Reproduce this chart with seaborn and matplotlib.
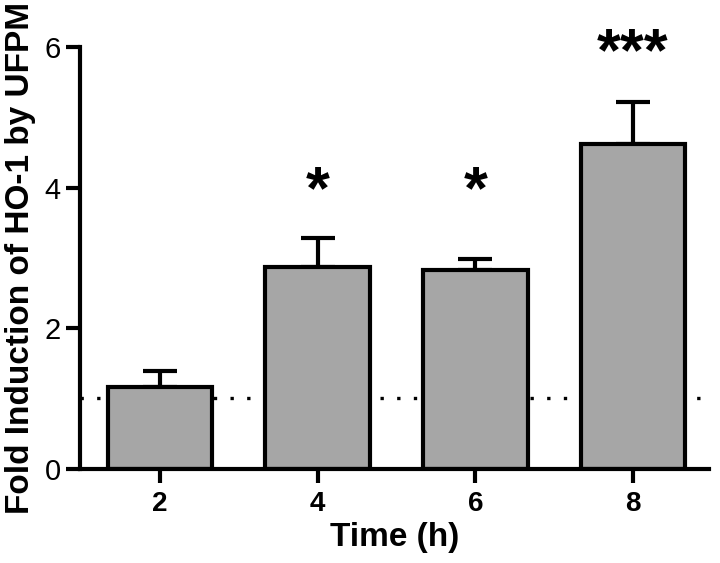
import matplotlib
matplotlib.use("Agg")
import matplotlib.pyplot as plt
import seaborn as sns
import pandas as pd
import numpy as np

times = ["2", "4", "6", "8"]
means = [1.16, 2.87, 2.83, 4.62]
sems = [0.23, 0.41, 0.15, 0.60]
stars = ["", "*", "*", "***"]
yticks = [0, 2, 4, 6]

sns.set_theme(style="ticks")
plt.rcParams['font.family'] = ['Liberation Sans', 'DejaVu Sans']
plt.rcParams['text.color'] = 'black'
plt.rcParams['axes.labelcolor'] = 'black'

df = pd.DataFrame({"Time": times, "Fold": means})

fig = plt.figure(figsize=(7.2, 5.63), dpi=100)
ax = fig.add_axes([80/720, 1 - 468.6/563, (708.6-80)/720, (468.6-47.4)/563])

ax.axhline(1.0, color="black", lw=2.4, linestyle=(0, (1, 4)), zorder=0)

sns.barplot(data=df, x="Time", y="Fold", color="#a6a6a6", saturation=1,
            edgecolor="black", linewidth=3, width=0.664, errorbar=None, ax=ax, zorder=2)

ax.errorbar(np.arange(len(means)), means, yerr=[np.zeros(len(sems)), sems],
            fmt="none", ecolor="black", elinewidth=3, capsize=12.5, capthick=3, zorder=1)

# significance marks: single stars share a level, triple star sits above the tallest bar
tops = [m + s for m, s in zip(means, sems)]
single_level = max(tops[1], tops[2]) + 0.24
for i, s in enumerate(stars):
    if s:
        y = single_level if len(s) == 1 else tops[i] + 0.27
        ax.text(i, y, s, ha="center", va="bottom", color="black",
                fontsize=44, fontweight="bold", clip_on=False)

ax.set_xlim(-0.508, 3.48)
ax.set_ylim(0, 6)
ax.set_yticks(yticks)
ax.set_yticklabels([str(v) for v in yticks])
sns.despine(ax=ax)
for sp in ["left", "bottom"]:
    ax.spines[sp].set_linewidth(3)
    ax.spines[sp].set_color("black")
ax.tick_params(axis="both", width=3, length=10, colors="black")
ax.tick_params(axis="x", pad=6, labelsize=20)
ax.tick_params(axis="y", pad=4, labelsize=21)
for lab in ax.get_xticklabels():
    lab.set_fontweight("bold")

ax.set_xlabel("Time (h)", fontsize=24, fontweight="bold", labelpad=4)
ax.set_ylabel("Fold Induction of HO-1 by UFPM", fontsize=24, fontweight="bold", labelpad=6)

fig.savefig("out.png", dpi=100)
